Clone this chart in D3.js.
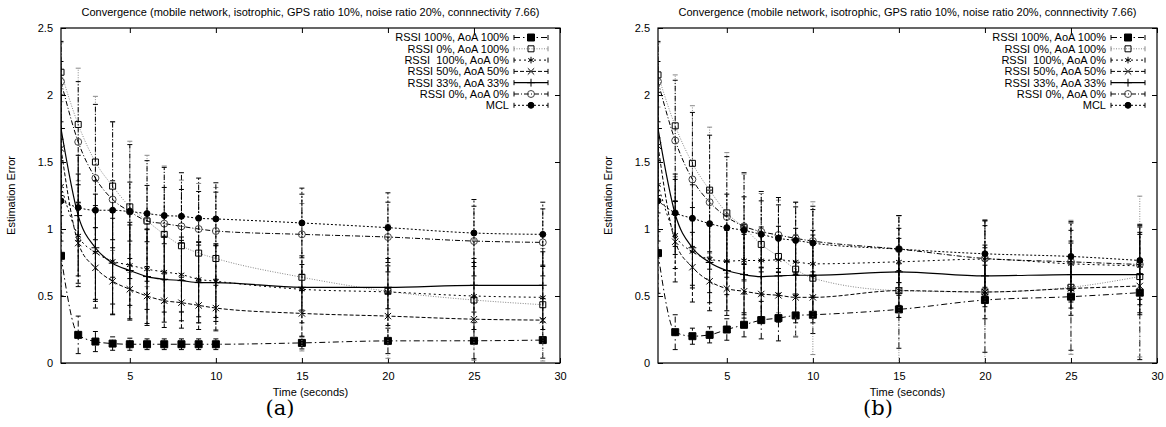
<!DOCTYPE html>
<html>
<head>
<meta charset="utf-8">
<script src="https://cdn.jsdelivr.net/npm/d3@7"></script>
<style>
  body { margin: 0; background: #fff; }
  text { font-family: "Liberation Sans", Arial, sans-serif; fill: #000; }
</style>
</head>
<body>
<div id="chart"></div>
<script>
// time steps (seconds)
const times = [1, 2, 3, 4, 5, 6, 7, 8, 9, 10, 15, 20, 25, 29];

const seriesLabels = ["RSSI 100%, AoA 100%", "RSSI 0%, AoA 100%", "RSSI  100%, AoA 0%",
  "RSSI 50%, AoA 50%", "RSSI 33%, AoA 33%", "RSSI 0%, AoA 0%", "MCL"];

const xTicks = [5, 10, 15, 20, 25, 30];
const yTicks = [0, 0.5, 1, 1.5, 2, 2.5];

const title = "Convergence (mobile network, isotrophic, GPS ratio 10%, noise ratio 20%, connnectivity 7.66)";

// panel (a) means
const aR100A100 = [0.80, 0.21, 0.16, 0.145, 0.14, 0.14, 0.14, 0.14, 0.14, 0.14, 0.15, 0.165, 0.166, 0.171];
const aR0A100   = [2.17, 1.78, 1.50, 1.32, 1.165, 1.06, 0.96, 0.875, 0.82, 0.78, 0.64, 0.535, 0.47, 0.435];
const aR100A0   = [1.32, 0.95, 0.825, 0.76, 0.73, 0.70, 0.68, 0.66, 0.625, 0.61, 0.55, 0.53, 0.50, 0.49];
const aR50A50   = [1.60, 0.895, 0.71, 0.61, 0.55, 0.50, 0.465, 0.45, 0.43, 0.41, 0.37, 0.35, 0.327, 0.32];
const aR33A33   = [1.75, 1.10, 0.86, 0.745, 0.69, 0.645, 0.625, 0.615, 0.60, 0.60, 0.565, 0.565, 0.58, 0.58];
const aR0A0     = [2.10, 1.65, 1.38, 1.22, 1.13, 1.06, 1.04, 1.02, 1.00, 0.985, 0.96, 0.94, 0.91, 0.90];
const aMCL      = [1.21, 1.16, 1.14, 1.14, 1.13, 1.115, 1.10, 1.095, 1.08, 1.075, 1.045, 1.01, 0.97, 0.96];

// panel (a) error half-widths
const aR100A100Err = [0.30, 0.14, 0.075, 0.05, 0.045, 0.04, 0.04, 0.04, 0.04, 0.04, 0.045, 0.095, 0.135, 0.135];
const aR0A100Err   = [0.22, 0.42, 0.49, 0.48, 0.49, 0.49, 0.51, 0.49, 0.52, 0.53, 0.55, 0.50, 0.45, 0.42];
const aR100A0Err   = [0.35, 0.38, 0.35, 0.32, 0.30, 0.30, 0.30, 0.28, 0.28, 0.27, 0.25, 0.25, 0.25, 0.24];
const aR50A50Err   = [0.40, 0.30, 0.30, 0.25, 0.23, 0.22, 0.20, 0.19, 0.18, 0.17, 0.17, 0.17, 0.16, 0.16];
const aR33A33Err   = [0.50, 0.45, 0.40, 0.38, 0.36, 0.35, 0.32, 0.30, 0.30, 0.29, 0.17, 0.16, 0.20, 0.25];
const aR0A0Err     = [0.30, 0.45, 0.55, 0.58, 0.50, 0.45, 0.42, 0.40, 0.38, 0.36, 0.30, 0.26, 0.26, 0.25];
const aMCLErr      = [0.30, 0.25, 0.22, 0.22, 0.22, 0.21, 0.21, 0.20, 0.20, 0.20, 0.26, 0.26, 0.25, 0.24];

// panel (b) means
const bR100A100 = [0.82, 0.23, 0.20, 0.21, 0.25, 0.285, 0.32, 0.335, 0.355, 0.36, 0.40, 0.47, 0.495, 0.525];
const bR0A100   = [2.15, 1.77, 1.49, 1.29, 1.12, 1.01, 0.885, 0.795, 0.70, 0.633, 0.54, 0.53, 0.565, 0.645];
const bR100A0   = [1.33, 0.955, 0.83, 0.775, 0.76, 0.765, 0.765, 0.77, 0.755, 0.74, 0.755, 0.775, 0.74, 0.725];
const bR50A50   = [1.62, 0.905, 0.715, 0.61, 0.555, 0.535, 0.515, 0.505, 0.49, 0.49, 0.54, 0.53, 0.556, 0.575];
const bR33A33   = [1.75, 1.11, 0.86, 0.75, 0.69, 0.66, 0.645, 0.65, 0.655, 0.655, 0.68, 0.65, 0.66, 0.66];
const bR0A0     = [2.10, 1.66, 1.37, 1.20, 1.09, 1.02, 0.98, 0.955, 0.93, 0.91, 0.85, 0.78, 0.755, 0.735];
const bMCL      = [1.21, 1.12, 1.08, 1.04, 1.01, 0.99, 0.96, 0.93, 0.915, 0.895, 0.85, 0.815, 0.795, 0.765];

// panel (b) error half-widths
const bR100A100Err = [0.30, 0.13, 0.06, 0.06, 0.08, 0.09, 0.14, 0.17, 0.16, 0.14, 0.29, 0.39, 0.40, 0.50];
const bR0A100Err   = [0.24, 0.38, 0.43, 0.47, 0.45, 0.40, 0.38, 0.42, 0.50, 0.57, 0.56, 0.54, 0.50, 0.60];
const bR100A0Err   = [0.35, 0.25, 0.25, 0.25, 0.25, 0.25, 0.25, 0.25, 0.25, 0.25, 0.25, 0.25, 0.25, 0.25];
const bR50A50Err   = [0.40, 0.30, 0.26, 0.22, 0.20, 0.20, 0.20, 0.20, 0.19, 0.19, 0.20, 0.20, 0.20, 0.20];
const bR33A33Err   = [0.50, 0.30, 0.30, 0.30, 0.30, 0.30, 0.30, 0.30, 0.30, 0.30, 0.25, 0.23, 0.25, 0.30];
const bR0A0Err     = [0.30, 0.45, 0.50, 0.50, 0.45, 0.40, 0.30, 0.28, 0.27, 0.26, 0.25, 0.28, 0.30, 0.30];
const bMCLErr      = [0.30, 0.25, 0.25, 0.25, 0.25, 0.25, 0.25, 0.25, 0.25, 0.25, 0.25, 0.25, 0.25, 0.25];

const W = 1166, H = 427;
const plotTop = 28, plotBottom = 363;

const panels = [
  { left: 61, right: 560, caption: "(a)", capX: 280,
    means: [aR100A100, aR0A100, aR100A0, aR50A50, aR33A33, aR0A0, aMCL],
    errs: [aR100A100Err, aR0A100Err, aR100A0Err, aR50A50Err, aR33A33Err, aR0A0Err, aMCLErr] },
  { left: 658, right: 1157, caption: "(b)", capX: 878,
    means: [bR100A100, bR0A100, bR100A0, bR50A50, bR33A33, bR0A0, bMCL],
    errs: [bR100A100Err, bR0A100Err, bR100A0Err, bR50A50Err, bR33A33Err, bR0A0Err, bMCLErr] }
];

// gnuplot-ish line / point styles
const styles = [
  { dash: "6,3,1.5,3", stroke: "#000", sym: d3.symbolSquare, size: 49, fill: "#000", width: 1 },
  { dash: "1,1.5",     stroke: "#888", sym: d3.symbolSquare, size: 36, fill: "none", width: 1 },
  { dash: "2,3",       stroke: "#000", sym: d3.symbolAsterisk, size: 30, fill: "none", width: 1 },
  { dash: "4,2",       stroke: "#000", sym: d3.symbolX, size: 28, fill: "none", width: 1 },
  { dash: null,        stroke: "#000", sym: d3.symbolPlus, size: 22, fill: "none", width: 1.2 },
  { dash: "5,2,1,2",   stroke: "#000", sym: d3.symbolCircle, size: 38, fill: "none", width: 1 },
  { dash: "2,2",       stroke: "#000", sym: d3.symbolCircle, size: 28, fill: "#000", width: 1 }
];
const markerStroke = ["#000", "#000", "#000", "#000", "#000", "#444", "#000"];

const svg = d3.select("#chart").append("svg")
    .attr("width", W)
    .attr("height", H);

svg.append("rect").attr("width", W).attr("height", H).attr("fill", "#fff");

panels.forEach((p, pi) => {
  const x = d3.scaleLinear().domain([1, 30]).range([p.left, p.right]);
  const y = d3.scaleLinear().domain([0, 2.5]).range([plotBottom, plotTop]);
  const g = svg.append("g").attr("class", "panel");
  const cx = (p.left + p.right) / 2;

  g.append("clipPath").attr("id", "clip" + pi)
    .append("rect").attr("x", p.left).attr("y", plotTop)
    .attr("width", p.right - p.left).attr("height", plotBottom - plotTop);

  // axes with inward ticks, mirrored
  const axL = g.append("g").attr("transform", `translate(${p.left},0)`)
      .call(d3.axisLeft(y).tickValues(yTicks).tickSize(-5).tickPadding(8).tickFormat(d3.format("")));
  const axB = g.append("g").attr("transform", `translate(0,${plotBottom})`)
      .call(d3.axisBottom(x).tickValues(xTicks).tickSize(-5).tickPadding(9));
  const axR = g.append("g").attr("transform", `translate(${p.right},0)`)
      .call(d3.axisRight(y).tickValues(yTicks).tickSize(-5).tickFormat(""));
  const axT = g.append("g").attr("transform", `translate(0,${plotTop})`)
      .call(d3.axisTop(x).tickValues(xTicks).tickSize(-5).tickFormat(""));
  [axL, axB, axR, axT].forEach(a => {
    a.select(".domain").remove();
    a.selectAll("line").attr("stroke", "#000");
    a.selectAll("text").style("font-family", '"Liberation Sans", Arial, sans-serif')
      .style("font-size", "11px").attr("fill", "#000");
  });

  const plot = g.append("g").attr("clip-path", `url(#clip${pi})`);

  p.means.forEach((vals, si) => {
    const st = styles[si];
    const errs = p.errs[si];
    const pts = times.map((t, i) => ({ t, v: vals[i], e: errs[i] }));
    const sg = plot.append("g").attr("class", "series s" + si);

    // error bars
    const eb = sg.selectAll("g.eb").data(pts).enter().append("g").attr("class", "eb")
        .attr("stroke", st.stroke).attr("stroke-width", 1)
        .attr("stroke-dasharray", st.dash);
    eb.append("line")
      .attr("x1", d => x(d.t)).attr("x2", d => x(d.t))
      .attr("y1", d => y(d.v - d.e)).attr("y2", d => y(d.v + d.e));
    eb.append("line")
      .attr("x1", d => x(d.t) - 2.5).attr("x2", d => x(d.t) + 2.5)
      .attr("y1", d => y(d.v - d.e)).attr("y2", d => y(d.v - d.e)).attr("stroke-dasharray", "none");
    eb.append("line")
      .attr("x1", d => x(d.t) - 2.5).attr("x2", d => x(d.t) + 2.5)
      .attr("y1", d => y(d.v + d.e)).attr("y2", d => y(d.v + d.e)).attr("stroke-dasharray", "none");

    // line
    sg.append("path")
      .datum(pts)
      .attr("fill", "none")
      .attr("stroke", st.stroke)
      .attr("stroke-width", st.width)
      .attr("stroke-dasharray", st.dash)
      .attr("d", d3.line().x(d => x(d.t)).y(d => y(d.v)).curve(d3.curveMonotoneX));

    // points
    sg.selectAll("path.pt").data(pts).enter().append("path")
      .attr("class", "pt")
      .attr("transform", d => `translate(${x(d.t)},${y(d.v)})`)
      .attr("d", d3.symbol().type(st.sym).size(st.size))
      .attr("fill", st.fill)
      .attr("stroke", markerStroke[si])
      .attr("stroke-width", 1);
  });

  // frame
  g.append("rect")
    .attr("x", p.left).attr("y", plotTop)
    .attr("width", p.right - p.left).attr("height", plotBottom - plotTop)
    .attr("fill", "none").attr("stroke", "#000").attr("stroke-width", 1.2);

  // legend
  const lg = g.append("g").attr("class", "legend");
  seriesLabels.forEach((lab, si) => {
    const st = styles[si];
    const ly = 37.5 + si * 11.3;
    const x0 = p.right - 46, x1 = p.right - 12;
    lg.append("text")
      .attr("x", p.right - 51).attr("y", ly).attr("dy", "0.36em")
      .attr("text-anchor", "end")
      .style("font-size", "11px")
      .style("white-space", "pre")
      .text(lab);
    lg.append("line").attr("x1", x0).attr("x2", x1).attr("y1", ly).attr("y2", ly)
      .attr("stroke", st.stroke).attr("stroke-width", st.width).attr("stroke-dasharray", st.dash);
    [x0, x1].forEach(xx => lg.append("line").attr("x1", xx).attr("x2", xx)
      .attr("y1", ly - 2.5).attr("y2", ly + 2.5).attr("stroke", st.stroke));
    lg.append("path")
      .attr("transform", `translate(${(x0 + x1) / 2},${ly})`)
      .attr("d", d3.symbol().type(st.sym).size(st.size))
      .attr("fill", st.fill).attr("stroke", markerStroke[si]);
  });

  // title and axis labels
  g.append("text").attr("x", cx).attr("y", 16).attr("text-anchor", "middle")
    .style("font-size", "11px").text(title);
  g.append("text").attr("x", cx).attr("y", 396).attr("text-anchor", "middle")
    .style("font-size", "11px").text("Time (seconds)");
  g.append("text")
    .attr("transform", `translate(${p.left - 46},${(plotTop + plotBottom) / 2}) rotate(-90)`)
    .attr("text-anchor", "middle")
    .style("font-size", "11px").text("Estimation Error");

  g.append("text").attr("x", p.capX).attr("y", 415).attr("text-anchor", "middle")
    .style("font-family", '"DejaVu Serif", "Liberation Serif", serif')
    .style("font-size", "21px").text(p.caption);
});
</script>
</body>
</html>
